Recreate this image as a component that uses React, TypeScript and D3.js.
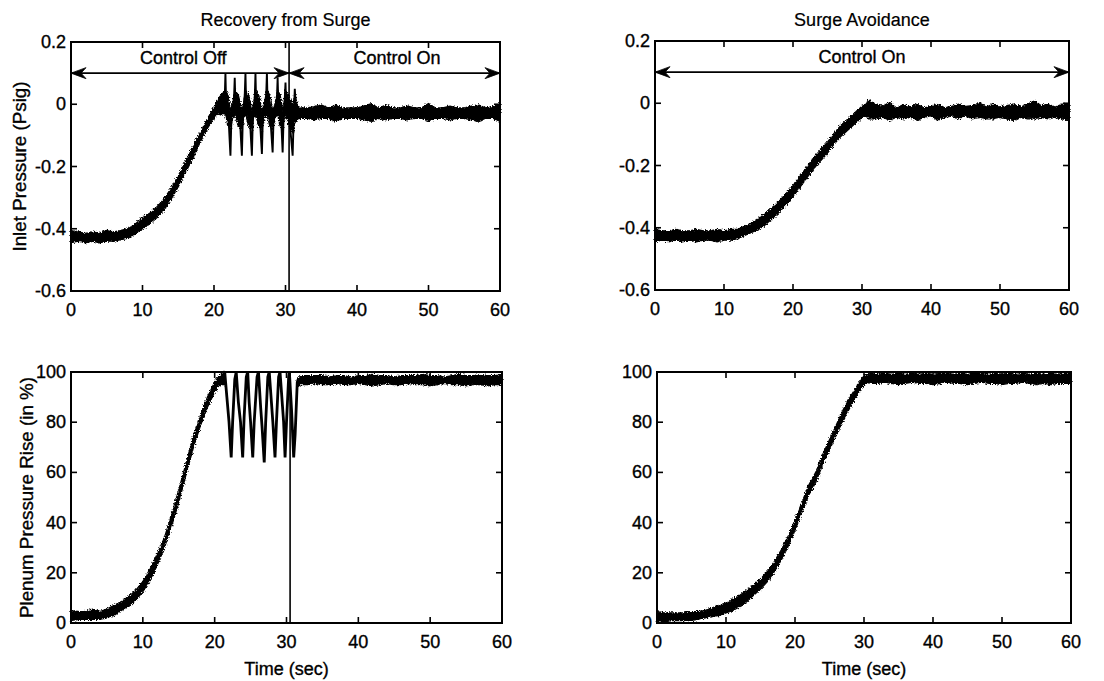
import React from 'react';
import * as d3 from 'd3';

const W = 1104;
const H = 681;
const FONT = '"Liberation Sans", Arial, Helvetica, sans-serif';
const FS = 18;
const FS_YLABEL = 18.8;

// ---------- axis ticks ----------
const xTicks = [0, 10, 20, 30, 40, 50, 60];
const inletTicks = [0.2, 0, -0.2, -0.4, -0.6];
const inletTickLabels = ['0.2', '0', '-0.2', '-0.4', '-0.6'];
const plenumTicks = [100, 80, 60, 40, 20, 0];
const plenumTickLabels = ['100', '80', '60', '40', '20', '0'];

const titles = ['Recovery from Surge', 'Surge Avoidance'];
const yLabels = ['Inlet Pressure (Psig)', 'Plenum Pressure Rise (in %)'];
const xLabel = 'Time (sec)';

// ---------- Recovery from Surge : inlet pressure (noise band envelope) ----------
const recInletT = [0, 1, 2, 3, 4, 5, 6, 7, 8, 9, 10, 11, 12, 13, 14, 15, 16, 17, 18, 19, 20, 20.5,
  21, 21.6, 21.95, 22.3, 22.6, 22.9, 23.4, 23.9, 24.15, 24.4, 24.85, 25.3, 25.55, 25.8, 26.25, 26.7,
  27.05, 27.4, 27.8, 28.2, 28.55, 28.9, 29.25, 29.6, 29.8, 30.0, 30.5, 31.0, 31.3, 31.6, 32,
  33, 34, 35, 36, 37, 38, 39, 40, 41, 42, 43, 44, 45, 46, 47, 48, 49, 50, 51, 52, 53, 54, 55, 56, 57, 58, 59, 60];
const recInletLo = [-0.445, -0.44, -0.445, -0.44, -0.445, -0.44, -0.44, -0.435, -0.43, -0.415, -0.4, -0.385, -0.365, -0.34, -0.305, -0.265, -0.22, -0.175, -0.125, -0.08, -0.045, -0.03,
  -0.035, -0.03, -0.07, -0.08, -0.045, -0.03, -0.07, -0.08, -0.045, -0.03, -0.07, -0.08, -0.045, -0.03, -0.07, -0.08,
  -0.045, -0.03, -0.07, -0.08, -0.045, -0.03, -0.07, -0.08, -0.045, -0.03, -0.07, -0.09, -0.06, -0.05, -0.045,
  -0.045, -0.05, -0.045, -0.045, -0.055, -0.045, -0.045, -0.045, -0.05, -0.055, -0.045, -0.05, -0.045, -0.045, -0.05, -0.045, -0.045, -0.055, -0.045, -0.045, -0.05, -0.045, -0.045, -0.05, -0.055, -0.045, -0.045, -0.055];
const recInletHi = [-0.405, -0.41, -0.415, -0.41, -0.415, -0.405, -0.41, -0.405, -0.4, -0.385, -0.365, -0.35, -0.33, -0.305, -0.27, -0.23, -0.185, -0.14, -0.095, -0.05, -0.01, 0.015,
  0.03, 0.045, 0.03, -0.02, 0.0, 0.045, 0.03, -0.02, 0.0, 0.045, 0.03, -0.02, 0.0, 0.045, 0.03, -0.02,
  0.0, 0.045, 0.03, -0.02, 0.0, 0.045, 0.03, -0.02, 0.0, 0.045, 0.025, -0.01, 0.035, 0.0, -0.012,
  -0.012, -0.008, -0.002, -0.012, -0.003, -0.012, -0.012, -0.012, -0.005, 0.002, -0.012, -0.003, -0.012, -0.012, -0.005, -0.012, -0.012, 0.002, -0.012, -0.012, -0.006, -0.012, -0.012, -0.006, -0.002, -0.012, -0.008, 0.002];

// surge spikes (thin trace)
const recInletSurgeT = [21.0, 21.5, 21.6, 21.7, 22.0, 22.3, 22.45, 22.8, 22.9, 23.0, 23.6, 23.9, 24.05, 24.3, 24.4, 24.5,
  25.0, 25.3, 25.45, 25.7, 25.8, 25.9, 26.4, 26.7, 26.85, 27.3, 27.4, 27.5, 27.9, 28.2, 28.35, 28.8, 28.9, 29.0,
  29.4, 29.6, 29.75, 29.9, 30.0, 30.1, 30.6, 31.0, 31.15, 31.3, 31.45, 31.7];
const recInletSurgeV = [0.0, 0.02, 0.1, 0.0, -0.03, -0.165, -0.03, 0.02, 0.085, 0.0, -0.04, -0.165, -0.03, 0.03, 0.1, 0.0,
  -0.04, -0.165, -0.03, 0.02, 0.1, 0.0, -0.04, -0.16, -0.03, 0.03, 0.1, 0.0, -0.05, -0.155, -0.03, 0.02, 0.085, 0.0,
  -0.05, -0.155, -0.03, 0.02, 0.07, 0.0, -0.06, -0.165, -0.04, 0.05, -0.01, -0.03];

// ---------- Recovery from Surge : plenum pressure rise ----------
const recPlenumPreT = [0, 1, 2, 3, 4, 5, 6, 7, 8, 9, 10, 11, 12, 13, 14, 15, 16, 17, 18, 19, 20, 20.5, 21, 21.4];
const recPlenumPreLo = [1, 1.5, 1.5, 1.5, 1.5, 2, 3, 5, 6.5, 9, 12.5, 17, 23, 30, 38.5, 48, 59, 69.5, 78.5, 86, 92, 94.5, 95, 95];
const recPlenumPreHi = [5, 4.5, 4.5, 5.5, 4.5, 5.5, 7, 8.5, 10.5, 13, 16.5, 21.5, 27.5, 34, 43, 53, 63.5, 74, 82.5, 90, 96, 98, 99.5, 100];
const recPlenumPostT = [31.5, 32, 33, 34, 35, 36, 37, 38, 39, 40, 41, 42, 43, 44, 45, 46, 47, 48, 49, 50, 51, 52, 53, 54, 55, 56, 57, 58, 59, 60];
const recPlenumPostLo = [94, 95, 95, 95.5, 95, 95, 95.5, 95, 95, 95.5, 95, 94.5, 95, 95.5, 95, 95, 95.5, 95, 95, 94.5, 95, 95.5, 95, 95, 94.5, 95, 95, 94.5, 95, 95];
const recPlenumPostHi = [97, 98.5, 98.5, 98.5, 98.5, 98, 98.5, 98.5, 98, 98.5, 98.5, 99, 98.5, 98.5, 98, 98.5, 98.5, 98.5, 99, 98.5, 98.5, 98, 98.5, 99, 98.5, 98.5, 99, 98.5, 98.5, 99];
const recPlenumSurgeT = [21.4, 21.7, 22.0, 22.3, 22.5, 22.8, 23.0, 23.3, 23.6, 23.9, 24.1, 24.4, 24.6, 24.8, 25.0, 25.3, 25.5, 25.9,
  26.1, 26.4, 26.6, 26.9, 27.1, 27.4, 27.6, 27.9, 28.1, 28.4, 28.6, 28.9, 29.1, 29.4, 29.6, 29.8, 30.0, 30.3, 30.4, 30.7, 31.0, 31.2, 31.5, 31.7];
const recPlenumSurgeV = [100, 90, 80, 66, 80, 97, 100, 88, 80, 66, 82, 98, 100, 88, 80, 66, 80, 98,
  100, 86, 78, 64, 80, 98, 100, 88, 80, 66, 80, 98, 100, 88, 80, 66, 80, 98, 100, 85, 66, 75, 96, 97];

// ---------- Surge Avoidance : inlet pressure ----------
const avInletT = [0, 1, 2, 3, 4, 5, 6, 7, 8, 9, 10, 11, 12, 13, 14, 15, 16, 17, 18, 19, 20, 21, 22, 23, 24, 25, 26, 27, 28, 29, 30, 30.5,
  31, 32, 33, 34, 35, 36, 37, 38, 39, 40, 41, 42, 43, 44, 45, 46, 47, 48, 49, 50, 51, 52, 53, 54, 55, 56, 57, 58, 59, 60];
const avInletLo = [-0.445, -0.44, -0.445, -0.44, -0.445, -0.44, -0.445, -0.44, -0.44, -0.445, -0.44, -0.44, -0.435, -0.425, -0.415, -0.405, -0.39, -0.37, -0.35, -0.325, -0.3, -0.27, -0.24, -0.21, -0.185, -0.16, -0.13, -0.105, -0.085, -0.065, -0.045, -0.04,
  -0.05, -0.05, -0.045, -0.055, -0.045, -0.05, -0.045, -0.055, -0.045, -0.04, -0.055, -0.045, -0.04, -0.05, -0.04, -0.05, -0.045, -0.05, -0.05, -0.045, -0.05, -0.055, -0.045, -0.05, -0.05, -0.045, -0.05, -0.045, -0.05, -0.055];
const avInletHi = [-0.405, -0.41, -0.41, -0.405, -0.41, -0.41, -0.405, -0.41, -0.41, -0.405, -0.41, -0.405, -0.405, -0.395, -0.385, -0.37, -0.355, -0.335, -0.315, -0.29, -0.265, -0.235, -0.205, -0.175, -0.15, -0.125, -0.095, -0.07, -0.05, -0.03, -0.01, -0.005,
  0.01, -0.005, -0.01, 0.003, -0.015, -0.005, -0.012, -0.003, -0.015, -0.01, -0.003, -0.015, -0.01, -0.003, -0.01, -0.008, 0.002, -0.012, -0.003, -0.012, -0.008, -0.003, -0.012, -0.003, 0.007, -0.008, -0.003, -0.012, -0.003, -0.005];

// ---------- Surge Avoidance : plenum pressure rise ----------
const avPlenumT = [0, 1, 2, 3, 4, 5, 6, 7, 8, 9, 10, 11, 12, 13, 14, 15, 16, 17, 18, 19, 20, 21, 22, 23, 24, 25, 26, 27, 28, 29, 30, 30.5,
  31, 32, 33, 34, 35, 36, 37, 38, 39, 40, 41, 42, 43, 44, 45, 46, 47, 48, 49, 50, 51, 52, 53, 54, 55, 56, 57, 58, 59, 60];
const avPlenumLo = [0.5, 0.5, 1, 1, 1, 1, 1.5, 2, 2.5, 3, 4, 5, 6.5, 8.5, 11, 13.5, 16.5, 20.5, 25, 30.5, 37, 44, 51, 56, 63, 69, 75, 81, 86, 91, 95, 96,
  95.5, 95.5, 96, 95.5, 95, 95.5, 96, 95.5, 95.5, 95, 95.5, 96, 95.5, 95.5, 95, 95.5, 96, 95.5, 95.5, 95, 95.5, 95.5, 96, 95.5, 95, 95.5, 95, 95.5, 95.5, 95.5];
const avPlenumHi = [4.5, 4, 4, 4, 4, 4.5, 4.5, 5, 6, 7, 8, 9.5, 11, 13, 15, 17.5, 20.5, 24.5, 29, 34.5, 41, 48, 55, 60, 67, 73, 79, 85, 90, 94.5, 98.5, 99,
  99.5, 99, 99.5, 99, 99.5, 99, 99.5, 99, 99.5, 99, 99.5, 99.5, 99, 99.5, 99, 99.5, 99.5, 99, 99.5, 99, 99.5, 99, 99.5, 99, 99.5, 99, 99.5, 99, 99.5, 99.5];

// ---------- annotations ----------
const switchTime = 30.5;

type Band = { t: number[]; lo: number[]; hi: number[] };
type Trace = { t: number[]; v: number[]; w: number };
type Arrow = { t0: number; t1: number; v: number; label: string; labelT: number; labelV: number };
type Box = { x0: number; x1: number; y0: number; y1: number };

function arrowHead(tipX: number, tipY: number, dir: number) {
  // dir = -1 pointing left, +1 pointing right ; concave filled head
  const L = 15;
  const hw = 5.5;
  const n = 10;
  return `M${tipX},${tipY} L${tipX - dir * L},${tipY - hw} L${tipX - dir * n},${tipY} L${tipX - dir * L},${tipY + hw} Z`;
}

const textStyle = { fontFamily: FONT, fontSize: FS, fill: '#000', stroke: '#000', strokeWidth: 0.35 } as const;

function Panel(props: {
  box: Box;
  yDomain: [number, number];
  yTicks: number[];
  yTickLabels: string[];
  bands: Band[];
  traces: Trace[];
  marker?: number;
  arrows: Arrow[];
  title?: string;
  ylabel?: string;
  ylabelX?: number;
  xlabel?: string;
}) {
  const { box, yDomain, yTicks, yTickLabels, bands, traces, marker, arrows, title, ylabel, ylabelX, xlabel } = props;
  const x = d3.scaleLinear().domain([0, 60]).range([box.x0, box.x1]);
  const y = d3.scaleLinear().domain(yDomain).range([box.y1, box.y0]);
  const cx = (box.x0 + box.x1) / 2;
  const cy = (box.y0 + box.y1) / 2;
  const TL = 6;

  return (
    <g>
      {bands.map((b, i) => {
        const area = d3
          .area<number>()
          .x((k) => x(b.t[k]))
          .y0((k) => y(b.lo[k]))
          .y1((k) => y(b.hi[k]));
        const idx = b.t.map((_, k) => k);
        return (
          <path key={'b' + i} d={area(idx) || ''} fill="#000" stroke="#000" strokeWidth={1.3} filter="url(#rough)" />
        );
      })}
      {traces.map((tr, i) => {
        const line = d3
          .line<number>()
          .x((k) => x(tr.t[k]))
          .y((k) => y(tr.v[k]));
        const idx = tr.t.map((_, k) => k);
        return <path key={'t' + i} d={line(idx) || ''} fill="none" stroke="#000" strokeWidth={tr.w} strokeLinejoin="miter" />;
      })}
      {marker !== undefined && (
        <line x1={x(marker)} x2={x(marker)} y1={box.y0} y2={box.y1} stroke="#000" strokeWidth={1.6} />
      )}
      {arrows.map((a, i) => (
        <g key={'a' + i}>
          <line x1={x(a.t0)} x2={x(a.t1)} y1={y(a.v)} y2={y(a.v)} stroke="#000" strokeWidth={1.6} />
          <path d={arrowHead(x(a.t0), y(a.v), -1)} fill="#000" stroke="#000" strokeWidth={0.8} />
          <path d={arrowHead(x(a.t1), y(a.v), 1)} fill="#000" stroke="#000" strokeWidth={0.8} />
          <text x={x(a.labelT)} y={y(a.labelV)} textAnchor="middle" style={textStyle}>
            {a.label}
          </text>
        </g>
      ))}
      <rect x={box.x0} y={box.y0} width={box.x1 - box.x0} height={box.y1 - box.y0} fill="none" stroke="#000" strokeWidth={2} />
      {xTicks.map((t) => (
        <g key={'xt' + t}>
          <line x1={x(t)} x2={x(t)} y1={box.y1} y2={box.y1 - TL} stroke="#000" strokeWidth={1.6} />
          <line x1={x(t)} x2={x(t)} y1={box.y0} y2={box.y0 + TL} stroke="#000" strokeWidth={1.6} />
          <text x={x(t)} y={box.y1 + 25} textAnchor="middle" style={textStyle}>
            {String(t)}
          </text>
        </g>
      ))}
      {yTicks.map((v, i) => (
        <g key={'yt' + i}>
          <line x1={box.x0} x2={box.x0 + TL} y1={y(v)} y2={y(v)} stroke="#000" strokeWidth={1.6} />
          <line x1={box.x1} x2={box.x1 - TL} y1={y(v)} y2={y(v)} stroke="#000" strokeWidth={1.6} />
          <text x={box.x0 - 5} y={y(v) + 6} textAnchor="end" style={textStyle}>
            {yTickLabels[i]}
          </text>
        </g>
      ))}
      {title && (
        <text x={cx} y={26} textAnchor="middle" style={{ ...textStyle, strokeWidth: 0.2 }}>
          {title}
        </text>
      )}
      {ylabel && (
        <text
          transform={`translate(${ylabelX},${cy}) rotate(-90)`}
          textAnchor="middle"
          style={{ ...textStyle, fontSize: FS_YLABEL }}
        >
          {ylabel}
        </text>
      )}
      {xlabel && (
        <text x={cx} y={675} textAnchor="middle" style={textStyle}>
          {xlabel}
        </text>
      )}
    </g>
  );
}

export default function App() {
  const boxTL: Box = { x0: 71, x1: 500, y0: 42, y1: 291 };
  const boxTR: Box = { x0: 655, x1: 1069, y0: 41, y1: 290 };
  const boxBL: Box = { x0: 71, x1: 502, y0: 372, y1: 623 };
  const boxBR: Box = { x0: 657, x1: 1071, y0: 372, y1: 623 };

  return (
    <svg
      width={W}
      height={H}
      viewBox={`0 0 ${W} ${H}`}
      style={{ position: 'absolute', left: 0, top: 0, background: '#fff' }}
    >
      <defs>
        <filter id="rough" filterUnits="userSpaceOnUse" x={0} y={0} width={W} height={H}>
          <feTurbulence type="fractalNoise" baseFrequency="0.7" numOctaves={1} seed={4} result="n" />
          <feDisplacementMap in="SourceGraphic" in2="n" scale={5} xChannelSelector="R" yChannelSelector="G" />
        </filter>
      </defs>
      <rect x={0} y={0} width={W} height={H} fill="#fff" />
      <Panel
        box={boxTL}
        yDomain={[-0.6, 0.2]}
        yTicks={inletTicks}
        yTickLabels={inletTickLabels}
        bands={[{ t: recInletT, lo: recInletLo, hi: recInletHi }]}
        traces={[{ t: recInletSurgeT, v: recInletSurgeV, w: 1.9 }]}
        marker={switchTime}
        arrows={[
          { t0: 0, t1: switchTime, v: 0.1, label: 'Control Off', labelT: 15.7, labelV: 0.13 },
          { t0: switchTime, t1: 60, v: 0.1, label: 'Control On', labelT: 45.6, labelV: 0.13 },
        ]}
        title={titles[0]}
        ylabel={yLabels[0]}
        ylabelX={26}
      />
      <Panel
        box={boxTR}
        yDomain={[-0.6, 0.2]}
        yTicks={inletTicks}
        yTickLabels={inletTickLabels}
        bands={[{ t: avInletT, lo: avInletLo, hi: avInletHi }]}
        traces={[]}
        arrows={[{ t0: 0, t1: 60, v: 0.1, label: 'Control On', labelT: 30, labelV: 0.13 }]}
        title={titles[1]}
      />
      <Panel
        box={boxBL}
        yDomain={[0, 100]}
        yTicks={plenumTicks}
        yTickLabels={plenumTickLabels}
        bands={[
          { t: recPlenumPreT, lo: recPlenumPreLo, hi: recPlenumPreHi },
          { t: recPlenumPostT, lo: recPlenumPostLo, hi: recPlenumPostHi },
        ]}
        traces={[{ t: recPlenumSurgeT, v: recPlenumSurgeV, w: 2.8 }]}
        marker={switchTime}
        arrows={[]}
        ylabel={yLabels[1]}
        ylabelX={33}
        xlabel={xLabel}
      />
      <Panel
        box={boxBR}
        yDomain={[0, 100]}
        yTicks={plenumTicks}
        yTickLabels={plenumTickLabels}
        bands={[{ t: avPlenumT, lo: avPlenumLo, hi: avPlenumHi }]}
        traces={[]}
        arrows={[]}
        xlabel={xLabel}
      />
    </svg>
  );
}
